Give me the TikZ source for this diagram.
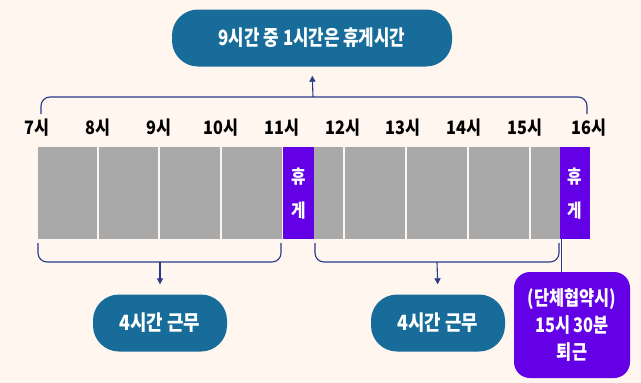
\documentclass[tikz,border=0pt]{standalone}
\usepackage{fontspec}
\usepackage{graphicx}
\setmainfont{Noto Sans CJK KR}
\usetikzlibrary{arrows.meta}
\definecolor{bgc}{HTML}{FEF6EF}
\definecolor{pillc}{HTML}{176C9A}
\definecolor{purp}{HTML}{6400E6}
\definecolor{grayc}{HTML}{A9A9A9}
\definecolor{navy}{HTML}{2A3A8A}
\newcommand{\nar}[2]{\scalebox{#1}[1]{#2}}
\tikzset{
  pill/.style={fill=pillc, text=white, font=\fontsize{21}{24}\selectfont\bfseries, inner sep=0pt, rounded corners=26pt},
  pbox/.style={fill=purp, text=white, font=\fontsize{20}{27}\selectfont\bfseries, inner sep=0pt, rounded corners=16pt, align=center},
  gcell/.style={fill=grayc, inner sep=0pt, minimum height=92pt, anchor=north west},
  rcell/.style={fill=purp, inner sep=0pt, minimum height=92pt, anchor=north west, text=white, font=\fontsize{18.5}{34}\selectfont\bfseries, align=center},
  hour/.style={font=\fontsize{18.5}{20}\selectfont\bfseries, text=black, inner sep=0pt},
  brace/.style={draw=navy, line width=1.1pt, rounded corners=9pt},
  arr/.style={draw=navy, line width=1.1pt, -{Triangle[length=6pt,width=6pt]}},
}
\begin{document}
\begin{tikzpicture}[x=1pt,y=-1pt]
\fill[bgc] (0,0) rectangle (641,383);
\useasboundingbox (0,0) rectangle (641,383);
% top pill
\node[pill, minimum width=280pt, minimum height=57pt] (top) at (312,38) {\nar{0.8}{9시간 중 1시간은 휴게시간}};
% hour labels
\foreach \x/\t [count=\i] in {37/7,98/8,159/9,221/10,282/11,343/12,403/13,464/14,525/15,589/16}
  \node[hour] (h\i) at (\x,128) {\nar{0.88}{\t 시}};
% cells
\node[gcell, minimum width=59pt] (c1) at (38,147) {};
\node[gcell, minimum width=59pt] (c2) at (99,147) {};
\node[gcell, minimum width=60pt] (c3) at (160,147) {};
\node[gcell, minimum width=60pt] (c4) at (222,147) {};
\node[rcell, minimum width=31pt] (r1) at (283,147) {\nar{0.85}{휴}\\\nar{0.85}{게}};
\node[gcell, minimum width=29pt] (c5) at (314,147) {};
\node[gcell, minimum width=60pt] (c6) at (345,147) {};
\node[gcell, minimum width=60pt] (c7) at (407,147) {};
\node[gcell, minimum width=60pt] (c8) at (469,147) {};
\node[gcell, minimum width=29pt] (c9) at (531,147) {};
\node[rcell, minimum width=30pt] (r2) at (560,147) {\nar{0.85}{휴}\\\nar{0.85}{게}};
% top brace
\draw[brace] (41,114) -- (41,97) -- (587,97) -- (587,114);
\coordinate (tb) at (313,97);
\draw[arr, shorten >=9pt] (tb) -- (top.south);
% bottom pills
\node[pill, minimum width=134pt, minimum height=57pt] (p1) at (160,323) {\nar{0.85}{4시간 근무}};
\node[pill, minimum width=134pt, minimum height=57pt] (p2) at (438,323) {\nar{0.85}{4시간 근무}};
\node[pbox, minimum width=116pt, minimum height=106pt] (pb) at (572,325) {\nar{0.82}{(단체협약시)}\\\nar{0.82}{15시 30분}\\\nar{0.82}{퇴근}};
% bottom braces
\draw[brace] (38,243) -- (38,262) -- (281,262) -- (281,243);
\draw[brace] (315,243) -- (315,262) -- (559,262) -- (559,243);
\coordinate (lb) at (160,262);
\coordinate (rb) at (437,262);
\draw[arr, shorten >=10pt] (lb) -- (p1.north);
\draw[arr, shorten >=10pt] (rb) -- (p2.north);
\coordinate (rr) at (561,239);
\draw[draw=navy, line width=1pt] (rr) -- (rr |- pb.north);
\end{tikzpicture}
\end{document}
